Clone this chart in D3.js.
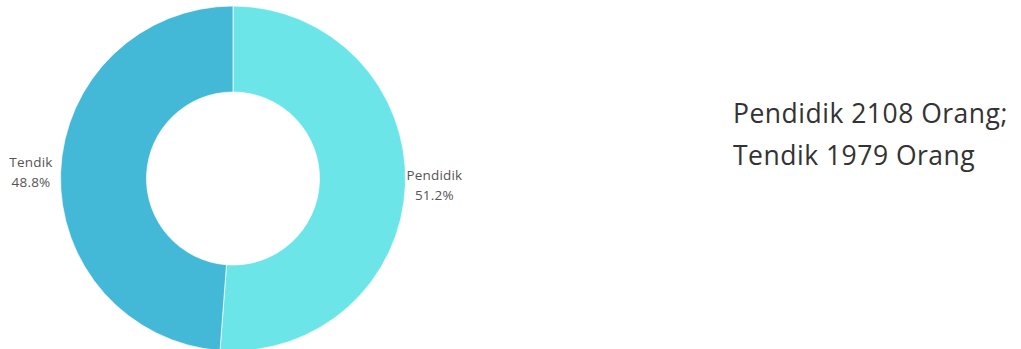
<!DOCTYPE html>
<html>
<head>
<meta charset="utf-8">
<script src="https://cdn.jsdelivr.net/npm/d3@7"></script>
<style>
  body { margin: 0; background: #fff; }
  svg { display: block; font-family: "Open Sans", sans-serif; }
</style>
</head>
<body>
<div id="chart"></div>
<script>
// slices
var categories = ["Pendidik", "Tendik"];
var shares = [51.2, 48.8];
var colors = ["#6be5e8", "#43b8d7"];
var noteLines = ["Pendidik 2108 Orang;", "Tendik 1979 Orang"];

var width = 1021, height = 349;
var cx = 233, cy = 178.5, outerR = 172.5, innerR = 86.5;

var svg = d3.select("#chart").append("svg")
  .attr("width", width)
  .attr("height", height);

var data = categories.map(function(c, i) { return {name: c, value: shares[i]}; });

var pie = d3.pie().sort(null).value(function(d) { return d.value; });
var arc = d3.arc().innerRadius(innerR).outerRadius(outerR);
var color = d3.scaleOrdinal().domain(categories).range(colors);

var g = svg.append("g")
  .attr("transform", "translate(" + cx + "," + cy + ")");

var arcs = pie(data);

g.selectAll("path")
  .data(arcs)
  .enter().append("path")
  .attr("d", arc)
  .attr("fill", function(d) { return color(d.data.name); })
  .attr("stroke", "#fff")
  .attr("stroke-width", 0.7);

// outside labels
var total = d3.sum(shares);
arcs.forEach(function(d) {
  var mid = (d.startAngle + d.endAngle) / 2;
  var px = Math.sin(mid) * outerR, py = -Math.cos(mid) * outerR;
  var right = px > 0;
  var t = g.append("text")
    .attr("font-size", 13.5)
    .attr("letter-spacing", 0.2)
    .attr("fill", "#555")
    .attr("text-anchor", "middle");
  t.append("tspan").attr("x", 0).attr("dy", 0).text(d.data.name);
  t.append("tspan").attr("x", 0).attr("dy", "1.5em")
    .text((d.data.value / total * 100).toFixed(1) + "%");
  var w = t.node().getBBox().width;
  var gap = right ? 1 : 8;
  var tx = px + (right ? 1 : -1) * (gap + w / 2);
  t.attr("transform", "translate(" + tx + "," + (py - 5) + ")");
});

// note on the right
var note = svg.append("text")
  .attr("x", 733)
  .attr("y", 123)
  .attr("font-size", 26.5)
  .attr("letter-spacing", 0.5)
  .attr("fill", "#333");
noteLines.forEach(function(s, i) {
  note.append("tspan").attr("x", 733).attr("dy", i ? 42 : 0).text(s);
});
</script>
</body>
</html>
